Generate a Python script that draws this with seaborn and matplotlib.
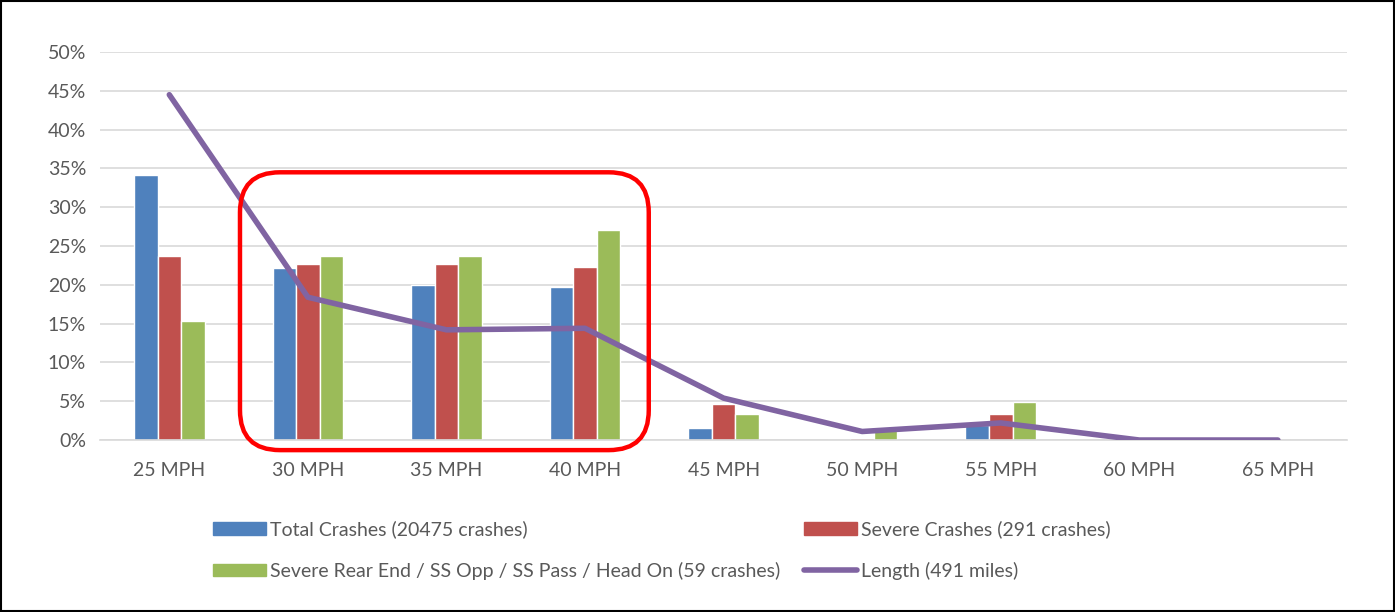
import numpy as np
import pandas as pd
import seaborn as sns
import matplotlib.pyplot as plt
from matplotlib.patches import Patch, FancyBboxPatch
from matplotlib.lines import Line2D
from matplotlib.ticker import PercentFormatter

# 速度分档
speeds = ["25 MPH", "30 MPH", "35 MPH", "40 MPH", "45 MPH", "50 MPH", "55 MPH", "60 MPH", "65 MPH"]
total_crashes = [34.1, 22.2, 20.0, 19.7, 1.6, 0.05, 1.9, 0.0, 0.0]
severe_crashes = [23.7, 22.7, 22.7, 22.3, 4.7, 0.3, 3.3, 0.0, 0.0]
severe_rear = [15.3, 23.7, 23.7, 27.1, 3.3, 1.5, 4.9, 0.0, 0.0]
length_miles = [44.5, 18.4, 14.2, 14.4, 5.4, 1.1, 2.2, 0.0, 0.0]

names = ["Total Crashes (20475 crashes)",
         "Severe Crashes (291 crashes)",
         "Severe Rear End / SS Opp / SS Pass / Head On (59 crashes)"]
line_name = "Length (491 miles)"
colors = ["#4F81BD", "#C0504D", "#9BBB59"]
purple = "#8064A2"
grey_txt = "#595959"

df = pd.DataFrame({
    "speed": speeds * 3,
    "series": [names[0]] * 9 + [names[1]] * 9 + [names[2]] * 9,
    "pct": total_crashes + severe_crashes + severe_rear,
})

sns.set_style("white")
plt.rcParams['font.family'] = ['Lato', 'DejaVu Sans']

fig = plt.figure(figsize=(13.95, 6.12), dpi=100)
ax = fig.add_axes([0.0717, 0.281, 0.894, 0.634])

sns.barplot(data=df, x="speed", y="pct", hue="series", palette=colors,
            width=0.51, saturation=1, ax=ax, legend=False, zorder=2)
ax.plot(range(len(speeds)), length_miles, color=purple, lw=4, zorder=3,
        solid_capstyle="round", solid_joinstyle="round")

ax.set_xlim(-0.5, 8.5)
ax.set_ylim(0, 50)
ax.set_yticks(np.arange(0, 51, 5))
ax.yaxis.set_major_formatter(PercentFormatter(decimals=0))
ax.grid(axis="y", color="#d9d9d9", lw=1.2, zorder=0)
ax.set_axisbelow(True)
for s in ["top", "right", "left"]:
    ax.spines[s].set_visible(False)
ax.spines["bottom"].set_color("#d9d9d9")
ax.spines["bottom"].set_linewidth(1.2)
ax.tick_params(axis="both", length=0, labelsize=14, colors=grey_txt)
ax.tick_params(axis="x", pad=16)
ax.tick_params(axis="y", pad=10)
ax.set_xlabel("")
ax.set_ylabel("")

# 红色圆角框
fig.canvas.draw()
to_in = ax.transData + fig.dpi_scale_trans.inverted()
(x0, y0) = to_in.transform((0.51, -1.3))
(x1, y1) = to_in.transform((3.46, 34.5))
box = FancyBboxPatch((x0 + 0.4, y0 + 0.4), (x1 - x0) - 0.8, (y1 - y0) - 0.8,
                     boxstyle="round,pad=0.4", transform=fig.dpi_scale_trans,
                     fill=False, edgecolor="#FF0000", lw=3.2, zorder=5)
fig.patches.append(box)

# 图例
handles = [Patch(color=colors[0]), Patch(color=colors[2]),
           Patch(color=colors[1]),
           Line2D([0], [0], color=purple, lw=4, solid_capstyle="round")]
labels = [names[0], names[2], names[1], line_name]
leg = fig.legend(handles, labels, ncol=2, loc="center left",
                 bbox_to_anchor=(0.14, 0.101), frameon=False,
                 fontsize=14, labelcolor=grey_txt, handlelength=2.75,
                 handleheight=0.6, handletextpad=0.2, columnspacing=1.2,
                 labelspacing=1.2)

# 外框
fig.patches.append(plt.Rectangle((0.001, 0.002), 0.998, 0.996, transform=fig.transFigure,
                                 fill=False, edgecolor="black", lw=1.5))

fig.savefig("out.png", dpi=100)
